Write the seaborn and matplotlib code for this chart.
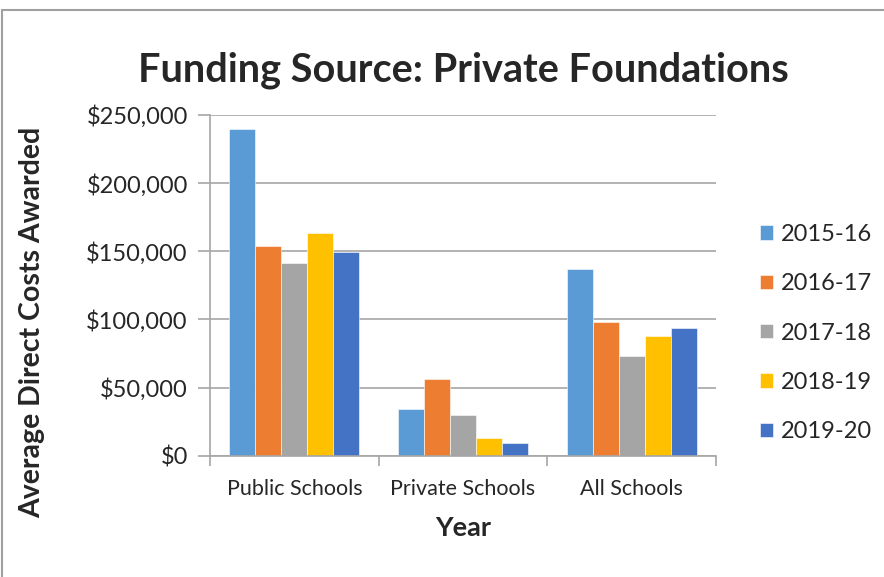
import matplotlib
matplotlib.use("Agg")
import matplotlib.pyplot as plt
from matplotlib.lines import Line2D
from matplotlib.ticker import FuncFormatter, MultipleLocator
import pandas as pd
import seaborn as sns

# Average direct costs awarded by private foundations
categories = ["Public Schools", "Private Schools", "All Schools"]
years = ["2015-16", "2016-17", "2017-18", "2018-19", "2019-20"]
costs_2015_16 = [240000, 34500, 137000]
costs_2016_17 = [154000, 56500, 98300]
costs_2017_18 = [141600, 30100, 72900]
costs_2018_19 = [163200, 12800, 87800]
costs_2019_20 = [149700, 9300, 93500]
colors = ["#5B9BD5", "#ED7D31", "#A5A5A5", "#FFC000", "#4472C4"]

series = [costs_2015_16, costs_2016_17, costs_2017_18, costs_2018_19, costs_2019_20]
rows = []
for year, vals in zip(years, series):
    for cat, v in zip(categories, vals):
        rows.append({"School": cat, "Year": year, "Cost": v})
df = pd.DataFrame(rows)

sns.set_theme(style="white")
plt.rcParams["font.family"] = ["Lato", "DejaVu Sans"]

fig = plt.figure(figsize=(8.84, 5.77), dpi=100)
ax = fig.add_axes([210 / 884, 1 - 455.7 / 577, 506 / 884, 340.7 / 577])

sns.barplot(data=df, x="School", y="Cost", hue="Year", hue_order=years,
            order=categories, palette=colors, width=0.77, saturation=1,
            edgecolor="white", linewidth=0.4, ax=ax)

grid_c = "#A6A6A6"
ax.set_ylim(0, 250000)
ax.set_xlim(-0.5, 2.5)
ax.yaxis.set_major_locator(MultipleLocator(50000))
ax.yaxis.set_major_formatter(FuncFormatter(lambda v, p: f"${v:,.0f}"))
ax.grid(axis="y", color=grid_c, linewidth=1.2)
ax.set_axisbelow(True)
for side in ["top", "right"]:
    ax.spines[side].set_visible(False)
for side in ["left", "bottom"]:
    ax.spines[side].set_color(grid_c)
    ax.spines[side].set_linewidth(1.2)

# category ticks sit on the boundaries between groups
ax.set_xticks([-0.5, 0.5, 1.5, 2.5], minor=False)
ax.set_xticklabels([])
ax.set_xticks([0, 1, 2], minor=True)
ax.set_xticklabels(categories, minor=True, fontsize=15.5)
ax.tick_params(axis="x", which="major", length=7, width=1.2, color=grid_c, direction="out", bottom=True)
ax.tick_params(axis="x", which="minor", length=0, pad=17)
ax.tick_params(axis="y", length=9, width=1.2, color=grid_c, direction="out", left=True, labelsize=17, pad=7)

ax.set_xlabel("Year", fontsize=19.5, fontweight="bold")
ax.xaxis.set_label_coords(0.5, (455.7 - 528) / 340.7)
ax.xaxis.label.set_va("center")
ax.set_ylabel("Average Direct Costs Awarded", fontsize=20.5, fontweight="bold")
ax.yaxis.set_label_coords((32 - 210) / 506, (455.7 - 322) / 340.7)
ax.yaxis.label.set_va("center")

fig.text(463 / 884, 1 - 70 / 577, "Funding Source: Private Foundations",
         ha="center", va="center", fontsize=28.5, fontweight="bold")

handles, labels = ax.get_legend_handles_labels()
ax.legend(handles, labels, loc="center left", bbox_to_anchor=(760 / 884, 1 - 333 / 577),
          bbox_transform=fig.transFigure, frameon=False, fontsize=17,
          borderaxespad=0, borderpad=0,
          handlelength=0.55, handleheight=0.55, handletextpad=0.35, labelspacing=1.2)

# chart area border
border = "#A0A0A0"
fig.add_artist(Line2D([2 / 884, 1], [1 - 10 / 577, 1 - 10 / 577], transform=fig.transFigure, color=border, lw=1.5))
fig.add_artist(Line2D([2 / 884, 2 / 884], [0, 1 - 10 / 577], transform=fig.transFigure, color=border, lw=1.5))

fig.savefig("out.png", dpi=100, facecolor="white")
